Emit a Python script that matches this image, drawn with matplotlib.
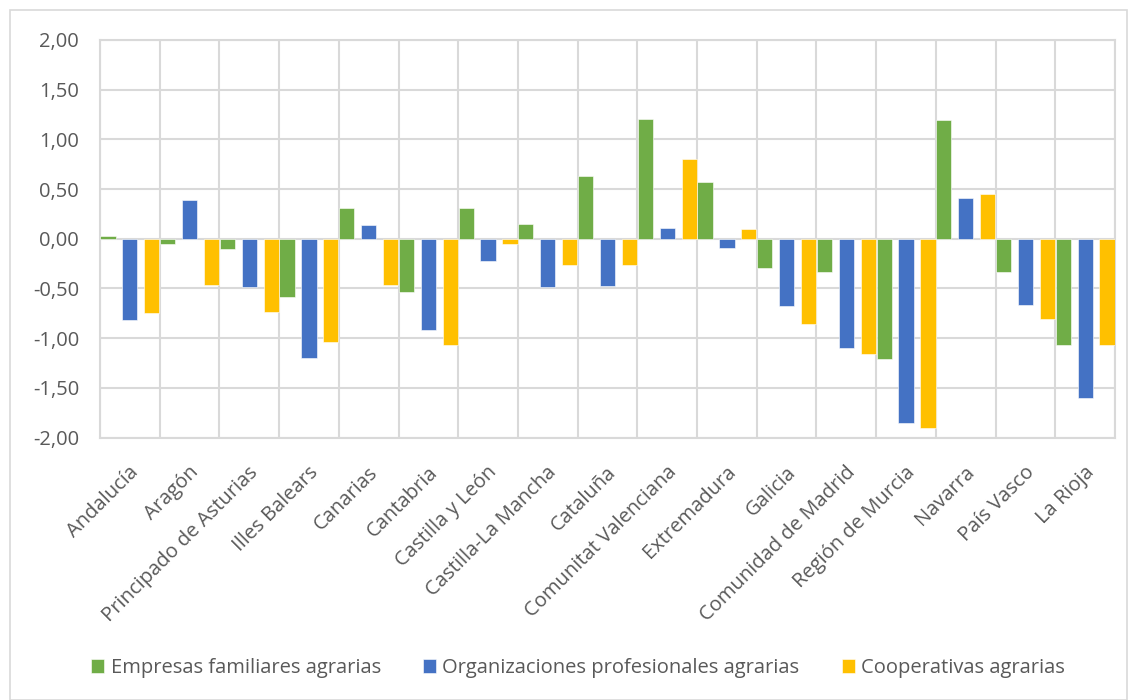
import numpy as np
import matplotlib.pyplot as plt
from matplotlib.patches import Rectangle
from matplotlib.ticker import FixedLocator, FuncFormatter
from matplotlib.transforms import ScaledTranslation

plt.rcParams['font.family'] = ['Open Sans', 'DejaVu Sans']

regiones = ['Andalucía', 'Aragón', 'Principado de Asturias', 'Illes Balears', 'Canarias',
            'Cantabria', 'Castilla y León', 'Castilla-La Mancha', 'Cataluña',
            'Comunitat Valenciana', 'Extremadura', 'Galicia', 'Comunidad de Madrid',
            'Región de Murcia', 'Navarra', 'País Vasco', 'La Rioja']

empresas = [0.03, -0.05, -0.10, -0.59, 0.31, -0.54, 0.31, 0.15, 0.63,
            1.21, 0.57, -0.29, -0.33, -1.21, 1.20, -0.33, -1.07]
organizaciones = [-0.82, 0.39, -0.49, -1.20, 0.14, -0.92, -0.22, -0.49, -0.48,
                  0.11, -0.09, -0.68, -1.10, -1.85, 0.41, -0.67, -1.60]
cooperativas = [-0.75, -0.47, -0.74, -1.04, -0.47, -1.07, -0.05, -0.26, -0.26,
                0.80, 0.10, -0.86, -1.16, -1.90, 0.45, -0.81, -1.07]

series = [('Empresas familiares agrarias', empresas, '#70AD47'),
          ('Organizaciones profesionales agrarias', organizaciones, '#4472C4'),
          ('Cooperativas agrarias', cooperativas, '#FFC000')]

gris = '#595959'
x = np.arange(len(regiones))

fig = plt.figure(figsize=(11.28, 7.0), dpi=100)
ax = fig.add_axes([100 / 1128, 1 - 437.5 / 700, 1015 / 1128, 397.5 / 700])

# chart border
fig.patches.append(Rectangle((10 / 1128, 0), 1117 / 1128, 690 / 700, transform=fig.transFigure,
                             fill=False, edgecolor='#D9D9D9', linewidth=1.2))

step = 0.367
for i, (nombre, vals, color) in enumerate(series):
    ax.bar(x + (i - 1) * step, vals, width=0.255, color=color, label=nombre,
           edgecolor='white', linewidth=0.4, zorder=3)

ax.set_xlim(-0.5, len(regiones) - 0.5)
ax.set_ylim(-2.0, 2.0)
ax.yaxis.set_major_locator(FixedLocator(np.arange(-2.0, 2.01, 0.5)))
ax.yaxis.set_major_formatter(FuncFormatter(lambda v, p: f'{v:.2f}'.replace('.', ',')))
ax.set_xticks(x)
ax.set_xticklabels(regiones, rotation=45, ha='right', rotation_mode='anchor')
ax.xaxis.set_minor_locator(FixedLocator(np.arange(-0.5, len(regiones), 1.0)))

ax.grid(True, axis='y', which='major', color='#D9D9D9', linewidth=1.5, zorder=0)
ax.grid(True, axis='x', which='minor', color='#D9D9D9', linewidth=1.5, zorder=0)
ax.tick_params(axis='both', which='both', length=0, labelsize=14.5, labelcolor=gris)
ax.tick_params(axis='y', pad=15)
ax.tick_params(axis='x', pad=15)
for s in ax.spines.values():
    s.set_color('#D9D9D9')
    s.set_linewidth(1.5)
ax.set_axisbelow(True)

desplaza = ScaledTranslation(-1 / 100, -4 / 100, fig.dpi_scale_trans)
for lbl in ax.get_xticklabels():
    lbl.set_transform(lbl.get_transform() + desplaza)

fig.legend(loc='center', bbox_to_anchor=(578 / 1128, 1 - 668 / 700), ncol=3, frameon=False,
           fontsize=14.5, labelcolor=gris, handlelength=0.65, handleheight=0.65,
           handletextpad=0.3, columnspacing=2.1)

fig.savefig('out.png', dpi=100)
